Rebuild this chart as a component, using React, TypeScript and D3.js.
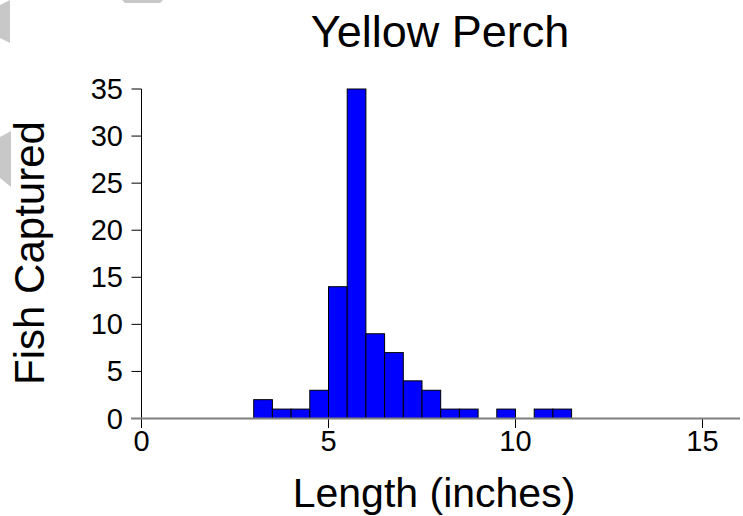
import React from "react";
import * as d3 from "d3";

const binStarts = [3.0, 3.5, 4.0, 4.5, 5.0, 5.5, 6.0, 6.5, 7.0, 7.5, 8.0, 8.5, 9.0, 9.5, 10.0, 10.5, 11.0];
const counts = [2, 1, 1, 3, 14, 35, 9, 7, 4, 3, 1, 1, 0, 1, 0, 1, 1];
const binWidth = 0.5;
const xTicks = [0, 5, 10, 15];
const yTicks = [0, 5, 10, 15, 20, 25, 30, 35];
const title = "Yellow Perch";
const xLabel = "Length (inches)";
const yLabel = "Fish Captured";

const W = 743;
const H = 516;
const FONT = "'Liberation Sans', Arial, sans-serif";

export default function App() {
  const x = d3.scaleLinear().domain([0, 15]).range([141.5, 702.5]);
  const y = d3.scaleLinear().domain([0, 35]).range([418.5, 89]);
  const xLeft = 131;
  const xRight = 740;

  const bars = binStarts
    .map((s, i) => ({ s, c: counts[i] }))
    .filter((d) => d.c > 0);

  return (
    <svg
      width={W}
      height={H}
      style={{ position: "absolute", left: 0, top: 0, background: "#fff" }}
      fontFamily={FONT}
    >
      {/* faint watermark shapes */}
      <polygon points="0,5 10,0 10,43 0,38" fill="#c8c8c8" />
      <polygon points="122,0 163,0 160,3 125,3" fill="#c8c8c8" />
      <polygon points="0,137 11,131 11,187 0,178" fill="#c8c8c8" />

      <text x={440} y={47} fontSize={45} textAnchor="middle" fill="#000">
        {title}
      </text>

      {/* bars */}
      {bars.map((d, i) => (
        <rect
          key={i}
          x={x(d.s)}
          y={y(d.c)}
          width={x(d.s + binWidth) - x(d.s)}
          height={y(0) - y(d.c)}
          fill="#0000ff"
          stroke="#000"
          strokeWidth={1}
        />
      ))}

      {/* y axis */}
      <line x1={141.5} x2={141.5} y1={y(35)} y2={y(0)} stroke="#000" strokeWidth={1} />
      {yTicks.map((t) => (
        <g key={t}>
          <line x1={131.5} x2={141.5} y1={y(t)} y2={y(t)} stroke="#000" strokeWidth={1} />
          <text x={123} y={y(t) + 10} fontSize={29} textAnchor="end" fill="#000">
            {t}
          </text>
        </g>
      ))}

      {/* x axis ticks */}
      {xTicks.map((t) => (
        <g key={t}>
          <line x1={x(t)} x2={x(t)} y1={y(0)} y2={428} stroke="#000" strokeWidth={1} />
          <text x={x(t)} y={451} fontSize={29} textAnchor="middle" fill="#000">
            {t}
          </text>
        </g>
      ))}

      {/* baseline */}
      <line x1={xLeft} x2={xRight} y1={y(0)} y2={y(0)} stroke="#7f7f7f" strokeWidth={2} />

      <text x={434} y={507} fontSize={41} textAnchor="middle" fill="#000">
        {xLabel}
      </text>
      <text
        transform={`translate(44,253) rotate(-90)`}
        fontSize={42}
        textAnchor="middle"
        fill="#000"
      >
        {yLabel}
      </text>
    </svg>
  );
}
